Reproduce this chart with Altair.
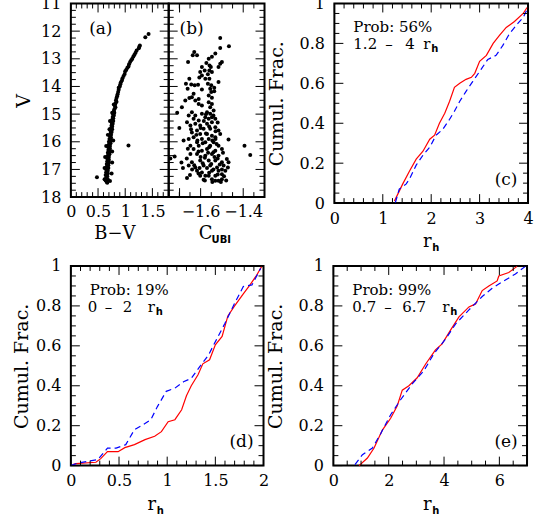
import altair as alt
import pandas as pd
import numpy as np

FONT = "DejaVu Serif"
SUBFONT = "DejaVu Sans"

# ---------------- data ----------------
# Panel (a): (V, B-V)
a_pts = [
    (12.10, 1.43), (12.22, 1.37), (12.52, 1.27), (12.56, 1.26), (12.62, 1.25), (12.70, 1.21),
    (12.78, 1.19), (12.85, 1.17), (12.92, 1.15), (13.00, 1.13), (13.05, 1.11), (13.12, 1.09),
    (13.20, 1.07), (13.28, 1.06), (13.32, 1.04), (13.40, 1.02), (13.45, 1.00), (13.55, 0.99),
    (13.62, 0.97), (13.70, 0.95), (13.78, 0.94), (13.85, 0.92), (13.92, 0.91), (14.00, 0.90),
    (14.05, 0.88), (14.12, 0.88), (14.20, 0.87), (14.28, 0.86), (14.35, 0.85), (14.42, 0.84),
    (14.50, 0.83), (14.55, 0.84), (14.62, 0.82), (14.70, 0.81), (14.75, 0.82), (14.82, 0.80),
    (14.90, 0.79), (14.95, 0.80), (15.00, 0.78), (15.05, 0.79), (15.10, 0.77), (15.15, 0.78),
    (15.20, 0.76), (15.25, 0.78), (15.30, 0.75), (15.35, 0.77), (15.40, 0.75), (15.45, 0.76),
    (15.50, 0.74), (15.55, 0.76), (15.60, 0.73), (15.65, 0.75), (15.70, 0.73), (15.75, 0.74),
    (15.80, 0.72), (15.85, 0.74), (15.90, 0.71), (15.95, 0.73), (16.00, 0.70), (16.05, 0.73),
    (16.10, 0.70), (16.15, 0.72), (16.20, 0.69), (16.25, 0.72), (16.30, 0.69), (16.35, 0.71),
    (16.40, 0.68), (16.45, 0.71), (16.50, 0.68), (16.55, 0.70), (16.60, 0.67), (16.65, 0.70),
    (16.70, 0.67), (16.75, 0.70), (16.80, 0.66), (16.85, 0.69), (16.90, 0.66), (16.95, 0.69),
    (17.00, 0.65), (17.05, 0.68), (17.10, 0.65), (17.15, 0.68), (17.20, 0.64), (17.25, 0.67),
    (17.30, 0.65), (17.35, 0.68), (17.40, 0.64), (17.45, 0.66), (17.48, 0.67), (16.13, 1.06),
    (17.28, 0.48), (16.55, 0.63), (16.75, 0.76), (16.95, 0.62), (17.15, 0.75), (17.35, 0.62),
    (17.42, 0.72), (16.35, 0.76), (16.15, 0.65), (15.95, 0.78), (15.75, 0.68), (15.55, 0.71),
    (15.25, 0.72), (14.95, 0.76), (14.65, 0.79),
]
a_v = [p[0] for p in a_pts]
a_bv = [p[1] for p in a_pts]

# Panel (b): (C_UBI, V)
b_pts = [
    (-1.508, 12.25), (-1.467, 12.55), (-1.508, 12.61), (-1.531, 12.81), (-1.630, 12.75),
    (-1.637, 12.87), (-1.617, 12.87), (-1.659, 13.12), (-1.547, 12.93), (-1.562, 13.00),
    (-1.500, 13.12), (-1.508, 13.18), (-1.516, 13.30), (-1.573, 13.15), (-1.558, 13.24),
    (-1.594, 13.30), (-1.552, 13.30), (-1.581, 13.42), (-1.559, 13.42), (-1.602, 13.48),
    (-1.547, 13.48), (-1.566, 13.56), (-1.653, 13.72), (-1.594, 13.60), (-1.606, 13.68),
    (-1.578, 13.72), (-1.559, 13.72), (-1.516, 13.84), (-1.669, 13.90), (-1.644, 13.93),
    (-1.628, 13.96), (-1.612, 13.94), (-1.661, 14.08), (-1.566, 13.90), (-1.550, 13.96),
    (-1.555, 14.08), (-1.536, 14.05), (-1.594, 14.11), (-1.633, 14.26), (-1.550, 14.20),
    (-1.536, 14.17), (-1.653, 14.42), (-1.609, 14.45), (-1.562, 14.33), (-1.547, 14.41),
    (-1.641, 14.39),
    (-1.688, 14.75), (-1.672, 14.51), (-1.625, 14.51), (-1.609, 14.63), (-1.594, 14.69),
    (-1.562, 14.57), (-1.547, 14.63), (-1.555, 14.75), (-1.641, 14.93), (-1.656, 15.05),
    (-1.594, 14.99), (-1.570, 14.93), (-1.555, 14.99), (-1.539, 14.87), (-1.664, 15.29),
    (-1.633, 15.17), (-1.609, 15.23), (-1.578, 15.11), (-1.562, 15.17), (-1.547, 15.11),
    (-1.531, 15.17), (-1.648, 15.41), (-1.625, 15.35), (-1.602, 15.41), (-1.570, 15.35),
    (-1.547, 15.29), (-1.586, 15.53), (-1.617, 15.59), (-1.641, 15.66), (-1.555, 15.53),
    (-1.531, 15.47), (-1.516, 15.59), (-1.602, 15.72), (-1.570, 15.72), (-1.547, 15.78),
    (-1.656, 15.90), (-1.633, 15.84), (-1.594, 15.90), (-1.562, 15.90), (-1.531, 15.84),
    (-1.508, 15.72), (-1.469, 15.92), (-1.617, 16.02), (-1.578, 16.02), (-1.539, 16.02),
    (-1.648, 16.14), (-1.609, 16.14), (-1.555, 16.14), (-1.516, 16.14), (-1.633, 16.26),
    (-1.594, 16.32), (-1.570, 16.26), (-1.531, 16.32), (-1.500, 16.26), (-1.394, 16.14),
    (-1.367, 16.48), (-1.742, 16.60), (-1.722, 16.53), (-1.648, 16.44), (-1.617, 16.44),
    (-1.578, 16.50), (-1.547, 16.44), (-1.516, 16.50), (-1.477, 16.62), (-1.641, 16.74),
    (-1.602, 16.68), (-1.562, 16.68), (-1.531, 16.68), (-1.500, 16.74), (-1.469, 16.74),
    (-1.656, 16.86), (-1.625, 16.93), (-1.586, 16.86), (-1.555, 16.86), (-1.523, 16.93),
    (-1.492, 16.86), (-1.617, 17.05), (-1.594, 17.11), (-1.547, 17.05), (-1.516, 17.05),
    (-1.484, 17.05), (-1.602, 17.23), (-1.562, 17.23), (-1.531, 17.23), (-1.500, 17.17),
    (-1.472, 16.93), (-1.664, 17.31), (-1.586, 17.37), (-1.547, 17.35), (-1.516, 17.41),
    (-1.500, 17.35), (-1.578, 17.23), (-1.531, 17.41),
    (-1.575, 15.00), (-1.540, 15.05), (-1.585, 15.25), (-1.520, 15.30), (-1.560, 15.45),
    (-1.600, 15.50), (-1.530, 15.62), (-1.620, 15.75), (-1.545, 15.95), (-1.590, 16.05),
    (-1.525, 16.08), (-1.560, 16.20), (-1.610, 16.35), (-1.540, 16.38), (-1.580, 16.58),
    (-1.520, 16.60), (-1.600, 16.55), (-1.550, 16.80), (-1.590, 16.78), (-1.510, 16.82),
    (-1.630, 16.85), (-1.570, 16.95), (-1.540, 17.00), (-1.500, 17.00), (-1.610, 17.15),
    (-1.560, 17.12), (-1.520, 17.18), (-1.580, 17.40), (-1.545, 17.45), (-1.505, 17.45),
    (-1.625, 15.05), (-1.645, 15.55), (-1.660, 16.25), (-1.680, 15.95), (-1.690, 16.75),
    (-1.665, 16.60), (-1.640, 17.00), (-1.700, 15.50), (-1.710, 14.95), (-1.683, 16.95),
    (-1.650, 17.20), (-1.565, 16.40), (-1.535, 16.55), (-1.495, 16.40), (-1.605, 16.95),
    (-1.530, 15.90), (-1.575, 15.70), (-1.615, 15.95), (-1.490, 17.25), (-1.480, 17.40),
]
b_c = [p[0] for p in b_pts]
b_v = [p[1] for p in b_pts]

# Panel (c): cumulative fractions, 1.2 - 4 r_h
c_red_r = [1.24, 1.31, 1.41, 1.55, 1.69, 1.83, 1.97, 2.07, 2.17, 2.28, 2.38, 2.48, 2.59, 2.72,
           2.83, 2.90, 3.00, 3.14, 3.28, 3.41, 3.55, 3.72, 3.90, 3.98]
c_red_f = [0.01, 0.045, 0.095, 0.16, 0.22, 0.26, 0.32, 0.34, 0.40, 0.45, 0.51, 0.58, 0.60, 0.62,
           0.63, 0.65, 0.71, 0.74, 0.80, 0.84, 0.88, 0.91, 0.95, 0.98]
c_blue_r = [1.26, 1.34, 1.48, 1.55, 1.69, 1.83, 1.97, 2.10, 2.24, 2.38, 2.48, 2.59, 2.72, 2.86,
            3.03, 3.17, 3.34, 3.48, 3.62, 3.79, 3.90, 4.00]
c_blue_f = [0.003, 0.07, 0.095, 0.12, 0.19, 0.24, 0.28, 0.34, 0.37, 0.42, 0.46, 0.51, 0.56, 0.61,
            0.67, 0.72, 0.74, 0.79, 0.85, 0.90, 0.93, 0.98]

# Panel (d): 0 - 2 r_h
d_red_r = [0.02, 0.05, 0.26, 0.31, 0.38, 0.49, 0.56, 0.66, 0.77, 0.87, 0.94, 1.01, 1.08, 1.15,
           1.20, 1.25, 1.32, 1.37, 1.44, 1.50, 1.57, 1.63, 1.70, 1.79, 1.86, 1.93, 1.98]
d_red_f = [0.005, 0.01, 0.017, 0.035, 0.07, 0.07, 0.09, 0.105, 0.13, 0.147, 0.17, 0.22, 0.23,
           0.28, 0.35, 0.40, 0.455, 0.51, 0.53, 0.605, 0.647, 0.75, 0.80, 0.86, 0.905, 0.955, 0.997]
d_blue_r = [0.00, 0.07, 0.28, 0.38, 0.47, 0.57, 0.66, 0.75, 0.83, 0.90, 0.99, 1.08, 1.17, 1.25,
            1.34, 1.43, 1.51, 1.60, 1.70, 1.79, 1.88, 1.97]
d_blue_f = [0.0, 0.013, 0.03, 0.088, 0.088, 0.105, 0.18, 0.205, 0.23, 0.297, 0.372, 0.388, 0.42,
            0.437, 0.497, 0.555, 0.63, 0.713, 0.813, 0.897, 0.905, 0.988]

# Panel (e): 0.7 - 6.7 r_h
e_red_r = [0.93, 1.23, 1.47, 1.77, 2.07, 2.31, 2.49, 2.73, 3.03, 3.33, 3.69, 3.93, 4.24, 4.54,
           4.90, 5.14, 5.38, 5.62, 5.92, 5.98, 6.34, 6.64]
e_red_f = [0.0, 0.038, 0.088, 0.178, 0.237, 0.30, 0.378, 0.40, 0.44, 0.508, 0.58, 0.61, 0.68,
           0.745, 0.795, 0.81, 0.877, 0.90, 0.925, 0.95, 0.967, 0.998]
e_blue_r = [0.78, 1.05, 1.41, 1.71, 2.07, 2.43, 2.85, 3.27, 3.63, 4.06, 4.42, 4.90, 5.38, 5.74,
            6.10, 6.58, 6.94]
e_blue_f = [0.005, 0.055, 0.088, 0.16, 0.255, 0.33, 0.41, 0.475, 0.56, 0.635, 0.71, 0.78, 0.847,
            0.888, 0.92, 0.96, 0.998]

probs = {"c": "Prob: 56%", "d": "Prob: 19%", "e": "Prob: 99%"}

# ---------------- helpers ----------------
AX = dict(ticks=False, domain=False, grid=False, labelFont=FONT, labelFontSize=16,
          labelColor="black", labelOverlap=False, labelFlush=False, format="~g")
TITLE = dict(titleFont=FONT, titleFontSize=19, titleFontWeight="normal", titleColor="black")


def steps(lo, hi, step):
    return [round(v, 4) for v in np.arange(lo, hi + step / 2, step)]


def minor(lo, hi, step, majors):
    return [v for v in steps(lo, hi, step) if all(abs(v - m) > 1e-6 for m in majors)]


def frame_ticks(W, H, xs, ys, xax, yax, xmaj, xmin, ymaj, ymin, L1=9, L2=5):
    layers = []
    for vals, L in ((xmaj, L1), (xmin, L2)):
        base = alt.Chart(pd.DataFrame({"t": vals})).mark_rule(color="black", strokeWidth=1)
        layers.append(base.encode(x=alt.X("t:Q", scale=xs, axis=xax), y=alt.value(H), y2=alt.value(H - L)))
        layers.append(base.encode(x=alt.X("t:Q", scale=xs, axis=xax), y=alt.value(0), y2=alt.value(L)))
    for vals, L in ((ymaj, L1), (ymin, L2)):
        base = alt.Chart(pd.DataFrame({"t": vals})).mark_rule(color="black", strokeWidth=1)
        layers.append(base.encode(y=alt.Y("t:Q", scale=ys, axis=yax), x=alt.value(0), x2=alt.value(L)))
        layers.append(base.encode(y=alt.Y("t:Q", scale=ys, axis=yax), x=alt.value(W - L), x2=alt.value(W)))
    return layers


def txt(s, x, y, size=16, align="left", font=FONT, weight="normal"):
    return alt.Chart(pd.DataFrame({"s": [s]})).mark_text(
        align=align, baseline="middle", font=font, fontSize=size, fontWeight=weight, color="black"
    ).encode(x=alt.value(x), y=alt.value(y), text="s:N")


def rh_title(H, rx, hx):
    return [txt("r", rx, H + 39, size=18, align="center"),
            txt("h", hx, H + 45, size=10, font=SUBFONT, weight="bold")]


def cumul_panel(W, H, xdom, xlabels, xmaj, xmin, red_r, red_f, blue_r, blue_f,
                prob, tokens, hx, tag, tagxy, rhx, title_pad):
    xs = alt.Scale(domain=xdom, nice=False, zero=False)
    ys = alt.Scale(domain=[0, 1], nice=False, zero=False)
    ymaj = steps(0, 1, 0.2)
    ymin = minor(0, 1, 0.05, ymaj)
    xax = alt.Axis(values=xlabels, labelPadding=7, title=None, **AX)
    yax = alt.Axis(values=ymaj, labelPadding=10, title="Cumul. Frac.", titlePadding=title_pad, **TITLE, **AX)
    red = alt.Chart(pd.DataFrame({"t": red_r, "f": red_f})).mark_line(
        color="#ff0000", strokeWidth=1.2).encode(
        x=alt.X("t:Q", scale=xs, axis=xax), y=alt.Y("f:Q", scale=ys, axis=yax))
    blue = alt.Chart(pd.DataFrame({"t": blue_r, "f": blue_f})).mark_line(
        color="#0000ff", strokeWidth=1.2, strokeDash=[6, 4]).encode(
        x=alt.X("t:Q", scale=xs, axis=xax), y=alt.Y("f:Q", scale=ys, axis=yax))
    texts = [txt(prob, 19, 24, size=15)]
    for s, x in tokens:
        texts.append(txt(s, x, 41, size=15))
    texts.append(txt("h", hx, 46, size=10, font=SUBFONT, weight="bold"))
    texts.append(txt(tag, tagxy[0], tagxy[1], size=17, align="center"))
    texts += rh_title(H, rhx[0], rhx[1])
    layers = [red, blue] + frame_ticks(W, H, xs, ys, xax, yax, xmaj, xmin, ymaj, ymin) + texts
    return alt.layer(*layers).properties(width=W, height=H)


# ---------------- panel (a) ----------------
WA, WB, HAB = 98, 96, 194
ys_ab = alt.Scale(domain=[11, 18], reverse=True, nice=False, zero=False)
xs_a = alt.Scale(domain=[0, 1.8], nice=False, zero=False)
xs_b = alt.Scale(domain=[-1.75, -1.3], nice=False, zero=False)
y_maj = steps(11, 18, 1)
y_min = minor(11, 18, 0.25, y_maj)

xax_a = alt.Axis(values=[0, 0.5, 1, 1.5], labelPadding=6, title=None, **AX)
yax_a = alt.Axis(values=y_maj, labelPadding=10, title="V", titlePadding=7, **TITLE, **AX)
pts_a = alt.Chart(pd.DataFrame({"t": a_bv, "v": a_v})).mark_circle(
    size=16, color="black", opacity=1).encode(
    x=alt.X("t:Q", scale=xs_a, axis=xax_a),
    y=alt.Y("v:Q", scale=ys_ab, axis=yax_a))
A = alt.layer(
    pts_a,
    *frame_ticks(WA, HAB, xs_a, ys_ab, xax_a, yax_a, steps(0, 1.8, 0.5),
                 minor(0, 1.8, 0.1, steps(0, 1.8, 0.5)), y_maj, y_min),
    txt("(a)", 30, 26, size=17, align="center"),
    txt("B\u2212V", 44, HAB + 37, size=18, align="center"),
).properties(width=WA, height=HAB)

# ---------------- panel (b) ----------------
b_xmaj = [-1.6, -1.4]
xax_b = alt.Axis(values=b_xmaj, labelPadding=6, title=None, **AX)
pts_b = alt.Chart(pd.DataFrame({"t": b_c, "v": b_v})).mark_circle(
    size=16, color="black", opacity=1).encode(
    x=alt.X("t:Q", scale=xs_b, axis=xax_b),
    y=alt.Y("v:Q", scale=ys_ab, axis=None))
B = alt.layer(
    pts_b,
    *frame_ticks(WB, HAB, xs_b, ys_ab, xax_b, None, b_xmaj, minor(-1.75, -1.3, 0.05, b_xmaj), y_maj, y_min),
    txt("(b)", 23, 26, size=17, align="center"),
    txt("C", 37, HAB + 37, size=18, align="center"),
    txt("UBI", 43, HAB + 43, size=10, font=SUBFONT, weight="bold"),
).properties(width=WB, height=HAB)

# ---------------- panels (c), (d), (e) ----------------
C = cumul_panel(194, 200, [0, 4], [0, 1, 2, 3, 4], steps(0, 4, 1), minor(0, 4, 0.2, steps(0, 4, 1)),
                c_red_r, c_red_f, c_blue_r, c_blue_f, probs["c"],
                [("1.2", 19), ("\u2013", 51), ("4", 71), ("r", 89)], 97, "(c)", (172, 177), (93, 98), 13)
D = cumul_panel(193, 200, [0, 2], [0, 0.5, 1, 1.5, 2], steps(0, 2, 0.5), minor(0, 2, 0.1, steps(0, 2, 0.5)),
                d_red_r, d_red_f, d_blue_r, d_blue_f, probs["d"],
                [("0", 17), ("\u2013", 34), ("2", 52), ("r", 77)], 85, "(d)", (171, 176), (81, 86), 4)
E = cumul_panel(194, 200, [0, 7], [0, 2, 4, 6], steps(0, 7, 2), minor(0, 7, 0.5, steps(0, 7, 2)),
                e_red_r, e_red_f, e_blue_r, e_blue_f, probs["e"],
                [("0.7", 19), ("\u2013", 51), ("6.7", 69), ("r", 109)], 117, "(e)", (173, 176), (94, 99), 13)

ab = alt.hconcat(A, B, spacing=0, bounds="flush")
top = alt.hconcat(ab, C, spacing=-1)
bottom = alt.hconcat(D, E, spacing=-6)
chart = alt.vconcat(top, bottom, spacing=3).properties(
    padding={"left": 11, "top": -6, "right": 6, "bottom": 3}
).configure_view(stroke="black", strokeWidth=2)

chart.save("out.html", embed_options={"renderer": "svg", "actions": False})
